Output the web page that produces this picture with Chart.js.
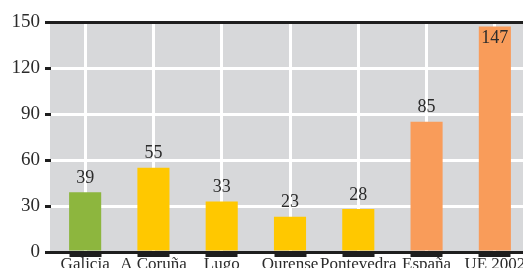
<!DOCTYPE html>
<html>
<head>
<meta charset="utf-8">
<script src="https://cdn.jsdelivr.net/npm/chart.js@4/dist/chart.umd.min.js"></script>
<style>
  html, body { margin: 0; padding: 0; background: #fff; }
  #wrap { width: 523px; height: 268px; overflow: hidden; position: relative; }
  #chart { display: block; }
</style>
</head>
<body>
<div id="wrap"><canvas id="chart" width="540" height="300"></canvas></div>
<script>
const categories = ["Galicia", "A Coruña", "Lugo", "Ourense", "Pontevedra", "España", "UE 2002"];
const values = [39, 55, 33, 23, 28, 85, 147];
const yTicks = [0, 30, 60, 90, 120, 150];
const barColors = ["#8db63e", "#ffc800", "#ffc800", "#ffc800", "#ffc800", "#f99c5a", "#f99c5a"];

const serif = "'Liberation Serif', 'DejaVu Serif', serif";

// fondo gris del area del grafico
const background = {
    id: "background",
    beforeDraw(chart) {
        const { ctx, chartArea } = chart;
        ctx.save();
        ctx.fillStyle = "#d7d8da";
        ctx.fillRect(chartArea.left - 1, chartArea.top, chartArea.right - chartArea.left + 1, chartArea.bottom - chartArea.top);
        ctx.restore();
    }
};

// etiquetas de valor encima de cada barra
const valueLabels = {
    id: "valueLabels",
    afterDatasetsDraw(chart) {
        const { ctx, chartArea } = chart;
        const meta = chart.getDatasetMeta(0);
        ctx.save();
        ctx.font = "18px " + serif;
        ctx.fillStyle = "#2b2b2b";
        ctx.textAlign = "center";
        meta.data.forEach((bar, i) => {
            let y = bar.y - 5;
            ctx.textBaseline = "bottom";
            if (y - 16 < chartArea.top) {
                ctx.textBaseline = "top";
                y = bar.y + 3;
            }
            ctx.fillText(String(values[i]), bar.x, y);
        });
        ctx.restore();
    }
};

new Chart(document.getElementById("chart"), {
    type: "bar",
    data: {
        labels: categories,
        datasets: [{
            data: values,
            backgroundColor: barColors,
            categoryPercentage: 1,
            barPercentage: 0.47
        }]
    },
    options: {
        responsive: false,
        animation: false,
        layout: { padding: { top: 22, right: 11, bottom: 28, left: 0 } },
        plugins: {
            legend: { display: false },
            tooltip: { enabled: false }
        },
        scales: {
            x: {
                afterFit: s => { s.height = 20; },
                border: { display: true, color: "#1e1e1e", width: 3, z: 1 },
                grid: {
                    offset: false,
                    color: "#ffffff",
                    lineWidth: 3,
                    tickColor: "#1e1e1e",
                    tickWidth: 32,
                    tickLength: 5
                },
                ticks: {
                    color: "#2b2b2b",
                    font: { family: serif, size: 17 },
                    padding: -3,
                    maxRotation: 0,
                    autoSkip: false
                }
            },
            y: {
                min: 0,
                max: 150,
                afterFit: s => { s.width = 51; },
                afterBuildTicks: s => { s.ticks = yTicks.map(v => ({ value: v })); },
                border: { display: false },
                grid: {
                    color: c => (c.tick && (c.tick.value === 150 || c.tick.value === 0)) ? "#1e1e1e" : "#ffffff",
                    lineWidth: 3,
                    tickColor: "#1e1e1e",
                    tickWidth: 3,
                    tickLength: 6
                },
                ticks: {
                    color: "#2b2b2b",
                    font: { family: serif, size: 19 },
                    padding: 5
                }
            }
        }
    },
    plugins: [background, valueLabels]
});
</script>
</body>
</html>
